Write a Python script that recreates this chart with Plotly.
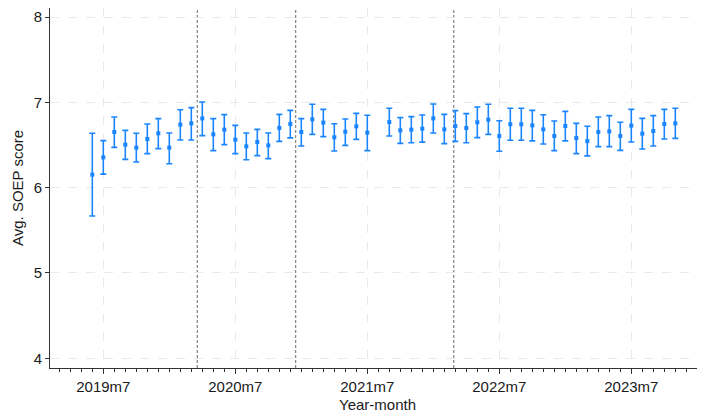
import plotly.graph_objects as go
import calendar

months = ["2019m6", "2019m7", "2019m8", "2019m9", "2019m10", "2019m11", "2019m12",
          "2020m1", "2020m2", "2020m3", "2020m4", "2020m5", "2020m6", "2020m7",
          "2020m8", "2020m9", "2020m10", "2020m11", "2020m12", "2021m1", "2021m2",
          "2021m3", "2021m4", "2021m5", "2021m6", "2021m7", "2021m9", "2021m10",
          "2021m11", "2021m12", "2022m1", "2022m2", "2022m3", "2022m4", "2022m5",
          "2022m6", "2022m7", "2022m8", "2022m9", "2022m10", "2022m11", "2022m12",
          "2023m1", "2023m2", "2023m3", "2023m4", "2023m5", "2023m6", "2023m7",
          "2023m8", "2023m9", "2023m10", "2023m11"]

mean = [6.152, 6.355, 6.652, 6.504, 6.469, 6.570, 6.637, 6.469, 6.739, 6.754,
        6.812, 6.625, 6.680, 6.563, 6.484, 6.535, 6.496, 6.700, 6.747, 6.652,
        6.801, 6.762, 6.590, 6.656, 6.719, 6.645, 6.769, 6.672, 6.680, 6.692,
        6.812, 6.683, 6.722, 6.699, 6.766, 6.797, 6.605, 6.743, 6.743, 6.730,
        6.683, 6.606, 6.723, 6.581, 6.546, 6.652, 6.660, 6.606, 6.727, 6.633,
        6.664, 6.747, 6.754]

upper = [6.637, 6.551, 6.828, 6.672, 6.637, 6.746, 6.809, 6.641, 6.914, 6.938,
         7.004, 6.809, 6.856, 6.730, 6.640, 6.683, 6.640, 6.859, 6.906, 6.809,
         6.977, 6.918, 6.750, 6.805, 6.871, 6.848, 6.930, 6.821, 6.833, 6.851,
         6.980, 6.859, 6.903, 6.868, 6.945, 6.977, 6.785, 6.930, 6.930, 6.906,
         6.855, 6.782, 6.894, 6.754, 6.719, 6.828, 6.844, 6.766, 6.918, 6.812,
         6.844, 6.918, 6.930]

lower = [5.667, 6.159, 6.472, 6.332, 6.301, 6.399, 6.457, 6.281, 6.558, 6.558,
         6.610, 6.434, 6.504, 6.399, 6.328, 6.375, 6.340, 6.543, 6.583, 6.488,
         6.625, 6.598, 6.430, 6.496, 6.566, 6.434, 6.606, 6.519, 6.527, 6.534,
         6.640, 6.516, 6.543, 6.527, 6.586, 6.625, 6.426, 6.555, 6.555, 6.548,
         6.512, 6.434, 6.548, 6.399, 6.372, 6.481, 6.481, 6.437, 6.536, 6.454,
         6.489, 6.571, 6.578]

tick_labels = ["2019m7", "2020m7", "2021m7", "2022m7", "2023m7"]
event_dates = ["2020-03-17", "2020-12-15", "2022-02-24"]
y_ticks = [4, 5, 6, 7, 8]


def mon_index(label):
    y, m = label.split("m")
    return (int(y) - 2019) * 12 + int(m) - 1


def date_index(d):
    y, m, day = (int(v) for v in d.split("-"))
    return (y - 2019) * 12 + (m - 1) + day / calendar.monthrange(y, m)[1]


x = [mon_index(m) for m in months]
err_plus = [u - v for u, v in zip(upper, mean)]
err_minus = [v - l for v, l in zip(mean, lower)]

blue = "#1A85FF"
fig = go.Figure()
fig.add_trace(go.Scatter(
    x=x, y=mean, mode="markers",
    marker=dict(symbol="square", size=4, color=blue),
    error_y=dict(type="data", array=err_plus, arrayminus=err_minus,
                 color=blue, thickness=1.6, width=3),
    showlegend=False,
))

for d in event_dates:
    xi = date_index(d)
    fig.add_shape(type="line", x0=xi, x1=xi, xref="x", y0=0, y1=1, yref="paper",
                  line=dict(color="#8a8a8a", width=1.3, dash="3px,2px"), layer="below")

font = dict(family="Liberation Sans, Arial, sans-serif", size=15, color="#1a1a1a")

# page body has an 8px default margin, so the figure is 8px smaller than the window
fig.update_layout(
    width=697, height=404,
    margin=dict(l=42, r=0, t=0, b=44),
    paper_bgcolor="white", plot_bgcolor="white",
    font=font,
    xaxis=dict(
        range=[1.155, 60.7],
        automargin=False,
        tickmode="array",
        tickvals=[mon_index(t) for t in tick_labels],
        ticktext=tick_labels,
        ticks="outside", ticklen=5, tickwidth=1, tickcolor="#333333",
        showline=True, linecolor="#333333", linewidth=1,
        showgrid=True, gridcolor="#e9e9e9", griddash="dash", gridwidth=1,
        zeroline=False,
        minor=dict(tickmode="linear", tick0=0, dtick=1, ticks="outside",
                   ticklen=3, tickcolor="#333333", showgrid=False),
    ),
    yaxis=dict(
        range=[3.886, 8.106],
        automargin=False,
        tickmode="array", tickvals=y_ticks,
        ticks="outside", ticklen=4, tickwidth=1, tickcolor="#333333",
        showline=True, linecolor="#333333", linewidth=1,
        showgrid=True, gridcolor="#e9e9e9", griddash="dash", gridwidth=1,
        zeroline=False,
    ),
    annotations=[
        dict(text="Year-month", xref="paper", x=0.5, yref="paper", y=0,
             yshift=-36, xanchor="center", yanchor="middle", showarrow=False, font=font),
        dict(text="Avg. SOEP score", xref="paper", x=0, xshift=-33, yref="paper", y=0.5,
             xanchor="center", yanchor="middle", textangle=-90, showarrow=False, font=font),
    ],
)

fig.write_html("out.html")
